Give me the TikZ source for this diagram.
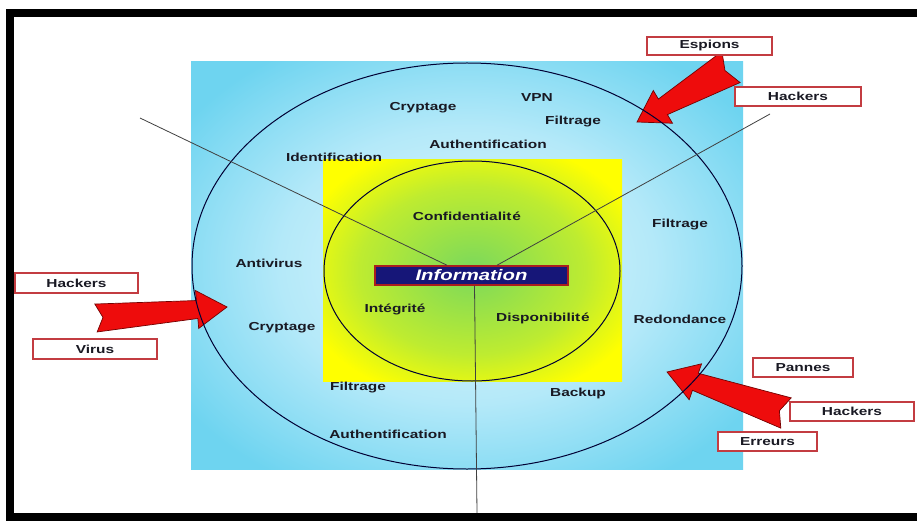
\documentclass[tikz,border=0pt]{standalone}
\usepackage{fontspec}
\usetikzlibrary{calc}
\newfontfamily\widesans[FakeStretch=1.33]{Liberation Sans}
\definecolor{bluedeep}{RGB}{110,212,240}
\definecolor{bluemid}{RGB}{180,233,249}
\definecolor{bluelight}{RGB}{226,248,253}
\definecolor{leafgreen}{RGB}{122,216,92}
\definecolor{limegreen}{RGB}{190,236,48}
\definecolor{infonavy}{RGB}{22,22,120}
\definecolor{infoedge}{RGB}{170,30,30}
\definecolor{boxedge}{RGB}{195,60,65}
\definecolor{arrowred}{RGB}{238,12,12}
\definecolor{ink}{RGB}{25,25,35}

% radial fills of the two squares (about 35bp = middle of a side, 50bp = corner)
\pgfdeclareradialshading{bluefield}{\pgfpoint{0bp}{0bp}}{%
  color(0bp)=(bluelight); color(17bp)=(bluemid); color(31bp)=(bluedeep); color(50bp)=(bluedeep)}
\pgfdeclareradialshading{corefield}{\pgfpoint{0bp}{0bp}}{%
  color(0bp)=(leafgreen); color(19bp)=(limegreen); color(30bp)=(yellow); color(50bp)=(yellow)}

% Block arrow: #1 tail coordinate, #2 tip coordinate, #3 half-width of the tail
\newcommand\attackarrow[3]{%
  \filldraw[attack]
    ($(#1)!#3!90:(#2)$)
    -- ($(#2)!30pt!(#1)!9pt!90:(#2)$)
    -- ($(#2)!30pt!(#1)!19pt!90:(#2)$)
    -- (#2)
    -- ($(#2)!30pt!(#1)!19pt!-90:(#2)$)
    -- ($(#2)!30pt!(#1)!9pt!-90:(#2)$)
    -- ($(#1)!#3!-90:(#2)$)
    -- ($(#1)!7pt!(#2)$)
    -- cycle;}

\begin{document}
\begin{tikzpicture}[x=1pt,y=-1pt,
  lbl/.style={font=\widesans\bfseries\fontsize{11.6}{13}\selectfont, text=ink, inner sep=0pt},
  threat/.style={draw=boxedge, line width=1.2pt, fill=white, minimum width=124pt,
    minimum height=19pt, inner sep=0pt, text=ink,
    font=\widesans\bfseries\fontsize{11.6}{13}\selectfont},
  spoke/.style={draw=black!75, line width=0.8pt},
  ring/.style={draw=black!80!blue, line width=1pt},
  attack/.style={fill=arrowred, draw=black!55!red, line width=0.7pt, line join=miter}]
\useasboundingbox (0,0) rectangle (917,521);
\fill[white] (0,0) rectangle (917,521);

% background squares
\shade[shading=bluefield] (191,62) rectangle (743,469);
\shade[shading=corefield] (323,160) rectangle (622,381);

% threat arrows
\coordinate (espT) at (731,67);  \coordinate (espP) at (637,122);
\coordinate (leftT) at (96,318); \coordinate (leftP) at (227,307);
\coordinate (lowT) at (786,413); \coordinate (lowP) at (667,372);
\attackarrow{espT}{espP}{18pt}
\attackarrow{leftT}{leftP}{14pt}
\attackarrow{lowT}{lowP}{16pt}

% rings
\draw[ring] (467,266) ellipse [x radius=275pt, y radius=203pt];
\draw[ring] (472,271) ellipse [x radius=148pt, y radius=110pt];

% centre
\node[fill=infonavy, draw=infoedge, line width=1.5pt, minimum width=193pt,
  minimum height=19pt, inner sep=0pt, text=white,
  font=\widesans\bfseries\itshape\fontsize{15.3}{16}\selectfont] (info) at (471.5,275.5) {Information};

% spokes
\coordinate (nw) at (140,118);
\coordinate (ne) at (770,114);
\coordinate (sb) at (477,513);
\draw[spoke] (nw) -- ($(info.north)+(-24.5,0)$);
\draw[spoke] (ne) -- ($(info.north)+(25.5,0)$);
\draw[spoke] ($(info.south)+(3,0)$) -- (sb);

% inner labels
\node[lbl] (conf) at (467,216) {Confidentialit\kern1pt é};
\node[lbl] (integ) at (395,309) {Intégrité};
\node[lbl] (dispo) at (543,318) {Disponibilit\kern1pt é};

% outer ring labels
\node[lbl] (crypt1) at (423,108) {Cryptage};
\node[lbl] (vpn) at (537,98) {VPN};
\node[lbl] (filt1) at (573,122) {Filtrage};
\node[lbl] (auth1) at (488,144) {Authentification};
\node[lbl] (ident) at (334,157) {Identification};
\node[lbl] (antiv) at (269,263) {Antivirus};
\node[lbl] (crypt2) at (282,328) {Cryptage};
\node[lbl] (filt2) at (680,225) {Filtrage};
\node[lbl] (redon) at (680,319) {Redondance};
\node[lbl] (backup) at (578,393) {Backup};
\node[lbl] (filt3) at (358,388) {Filtrage};
\node[lbl] (auth2) at (388,434) {Authentification};

% threat boxes
\node[threat, minimum width=125pt, minimum height=18pt] (espions) at (709.5,46) {Espions};
\node[threat, minimum width=126pt] (hackA) at (798,96.5) {Hackers};
\node[threat, minimum width=123pt, minimum height=20pt] (hackB) at (76.5,283) {Hackers};
\node[threat, minimum height=20pt] (virus) at (95,349) {Virus};
\node[threat, minimum width=100pt] (pannes) at (803,367.5) {Pannes};
\node[threat] (hackC) at (852,411.5) {Hackers};
\node[threat, minimum width=99pt] (erreurs) at (767.5,441.5) {Erreurs};

% frame
\begin{scope}
  \clip (0,0) rectangle (917,521);
  \draw[line width=8pt] (10,13) rectangle (960,517);
\end{scope}
\end{tikzpicture}
\end{document}
